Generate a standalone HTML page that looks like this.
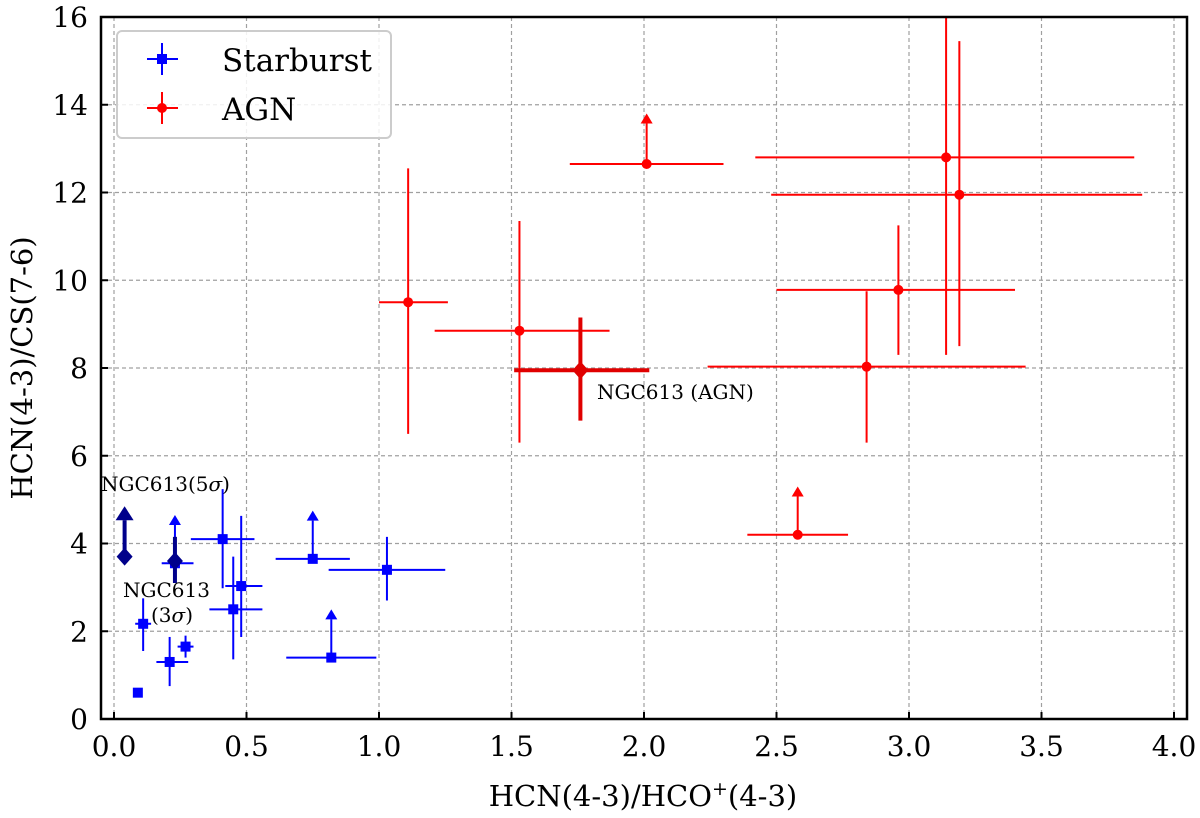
<!DOCTYPE html>
<html><head><meta charset="utf-8"><style>
body{margin:0;background:#fff}
svg text{font-family:"DejaVu Serif","Liberation Serif",serif}
</style></head><body>
<svg id="c" width="1200" height="813" viewBox="0 0 1200 813" xmlns="http://www.w3.org/2000/svg">
<g id="grid"></g>
<g id="marks"></g>
<g id="axes"></g>
<text x="643" y="806" font-size="29" text-anchor="middle">HCN(4-3)/HCO<tspan baseline-shift="super" font-size="19">+</tspan>(4-3)</text>
<text transform="translate(32,368) rotate(-90)" font-size="29" text-anchor="middle">HCN(4-3)/CS(7-6)</text>
<text x="597" y="399" font-size="20">NGC613 (AGN)</text>
<text x="101" y="491" font-size="20">NGC613(5<tspan font-style="italic">σ</tspan>)</text>
<text x="123" y="597" font-size="20">NGC613</text>
<text x="151" y="622" font-size="20">(3<tspan font-style="italic">σ</tspan>)</text>
<g>
<rect x="117" y="31" width="274" height="107" rx="5" fill="#fff" fill-opacity="0.85" stroke="#ccc" stroke-width="2"/>
<g>
<line x1="147" y1="59" x2="178" y2="59" stroke="#00f" stroke-width="2"/><line x1="162" y1="43" x2="162" y2="75" stroke="#00f" stroke-width="2"/><rect x="157" y="54" width="10" height="10" fill="#00f"/>
<text x="222" y="71" font-size="31">Starburst</text></g>
<g>
<line x1="147" y1="108" x2="178" y2="108" stroke="red" stroke-width="2"/><line x1="162" y1="92" x2="162" y2="124" stroke="red" stroke-width="2"/><circle cx="162" cy="108" r="5" fill="red"/>
<text x="222" y="120" font-size="31">AGN</text></g>
</g>
</svg>
<script>
const xTicks=[0.0,0.5,1.0,1.5,2.0,2.5,3.0,3.5,4.0];
const yTicks=[0,2,4,6,8,10,12,14,16];
const sbX=[0.09,0.11,0.21,0.27,0.41,0.48,0.45,0.75,1.03,0.82,0.23];
const sbY=[0.6,2.17,1.3,1.65,4.1,3.03,2.5,3.65,3.4,1.4,3.55];
const sbXlo=[0.09,0.08,0.16,0.24,0.29,0.42,0.36,0.61,0.81,0.65,0.18];
const sbXhi=[0.09,0.14,0.28,0.30,0.53,0.56,0.56,0.89,1.25,0.99,0.30];
const sbYlo=[0.6,1.55,0.75,1.4,2.98,1.87,1.36,3.65,2.7,1.4,3.55];
const sbYhi=[0.6,2.75,1.87,1.9,5.24,4.63,3.7,3.65,4.15,1.4,3.55];
const sbLim=[0,0,0,0,0,0,0,4.75,0,2.5,4.65];
const agX=[2.01,3.14,3.19,1.11,1.53,2.96,2.84,2.58];
const agY=[12.65,12.8,11.95,9.5,8.85,9.78,8.03,4.2];
const agXlo=[1.72,2.42,2.48,1.00,1.21,2.50,2.24,2.39];
const agXhi=[2.30,3.85,3.88,1.26,1.87,3.40,3.44,2.77];
const agYlo=[12.65,8.3,8.5,6.5,6.3,8.3,6.3,4.2];
const agYhi=[12.65,16.3,15.45,12.55,11.35,11.25,9.75,4.2];
const agLim=[13.8,0,0,0,0,0,0,5.3];
const ngX=[1.76,0.04,0.23];
const ngY=[7.95,3.7,3.6];
const ngXlo=[1.51,0.04,0.21];
const ngXhi=[2.02,0.04,0.25];
const ngYlo=[6.8,3.7,3.1];
const ngYhi=[9.15,3.7,4.15];
const ngLim=[0,4.85,0];

const X0=114,XS=265,Y0=719,YS=43.875;
const L=101,R=1187,T=17,B=719;
const sx=v=>X0+v*XS, sy=v=>Y0-v*YS;
const NS='http://www.w3.org/2000/svg';
function mk(p,t,a){const e=document.createElementNS(NS,t);for(const k in a)e.setAttribute(k,a[k]);p.appendChild(e);return e;}
const grid=document.getElementById('grid'),marks=document.getElementById('marks'),axes=document.getElementById('axes');
xTicks.forEach(v=>{
 const g=mk(grid,'line',{x1:sx(v),x2:sx(v),y1:T,y2:B,stroke:'#a0a0a0','stroke-width':1.2,'stroke-dasharray':'4,3'});
 
 
 const t=mk(axes,'line',{x1:sx(v),x2:sx(v),y1:B,y2:B-7,stroke:'#000','stroke-width':2});
 
 
 const l=mk(axes,'text',{x:sx(v),y:756,'font-size':28,'text-anchor':'middle'});l.textContent=v.toFixed(1);
 
 
});
yTicks.forEach(v=>{
 const g=mk(grid,'line',{x1:L,x2:R,y1:sy(v),y2:sy(v),stroke:'#a0a0a0','stroke-width':1.2,'stroke-dasharray':'4,3'});
 
 
 const t=mk(axes,'line',{x1:L,x2:L+7,y1:sy(v),y2:sy(v),stroke:'#000','stroke-width':2});
 
 
 const l=mk(axes,'text',{x:88,y:sy(v)+10,'font-size':28,'text-anchor':'end'});l.textContent=v;
 
 
});
const fr=mk(axes,'rect',{x:L,y:T,width:R-L,height:B-T,fill:'none',stroke:'#000','stroke-width':2.5});



function draw(X,Y,XL,XH,YL,YH,LIM,col,shape,sw,name){
 X.forEach((x,i)=>{
  const g=mk(marks,'g',{});
  
  
  if(XH[i]>XL[i]) mk(g,'line',{x1:sx(XL[i]),x2:sx(XH[i]),y1:sy(Y[i]),y2:sy(Y[i]),stroke:col,'stroke-width':sw});
  if(YH[i]>YL[i]) mk(g,'line',{x1:sx(x),x2:sx(x),y1:sy(YL[i]),y2:Math.max(sy(YH[i]),T),stroke:col,'stroke-width':sw});
  if(LIM[i]>0){
   const ah=sw>2?14:10, aw=sw>2?9:6, top=sy(LIM[i]);
   mk(g,'line',{x1:sx(x),x2:sx(x),y1:sy(Y[i]),y2:top+ah,stroke:col,'stroke-width':sw});
   mk(g,'polygon',{points:`${sx(x)},${top} ${sx(x)-aw},${top+ah} ${sx(x)+aw},${top+ah}`,fill:col});
  }
  const cx=sx(x),cy=sy(Y[i]);
  if(shape==='sq') mk(g,'rect',{x:cx-5,y:cy-5,width:10,height:10,fill:col});
  else if(shape==='ci') mk(g,'circle',{cx:cx,cy:cy,r:5,fill:col});
  else mk(g,'polygon',{points:`${cx},${cy-9} ${cx+8},${cy} ${cx},${cy+9} ${cx-8},${cy}`,fill:col});
 });
}
draw(sbX,sbY,sbXlo,sbXhi,sbYlo,sbYhi,sbLim,'#0000ff','sq',2,'starburst');
draw(agX,agY,agXlo,agXhi,agYlo,agYhi,agLim,'#ff0000','ci',2,'agn');
draw(ngX.slice(0,1),ngY.slice(0,1),ngXlo.slice(0,1),ngXhi.slice(0,1),ngYlo.slice(0,1),ngYhi.slice(0,1),ngLim.slice(0,1),'#e00000','di',4,'ngc613-agn');
draw(ngX.slice(1),ngY.slice(1),ngXlo.slice(1),ngXhi.slice(1),ngYlo.slice(1),ngYhi.slice(1),ngLim.slice(1),'#00008b','di',4,'ngc613-starburst');
</script>
</body></html>
